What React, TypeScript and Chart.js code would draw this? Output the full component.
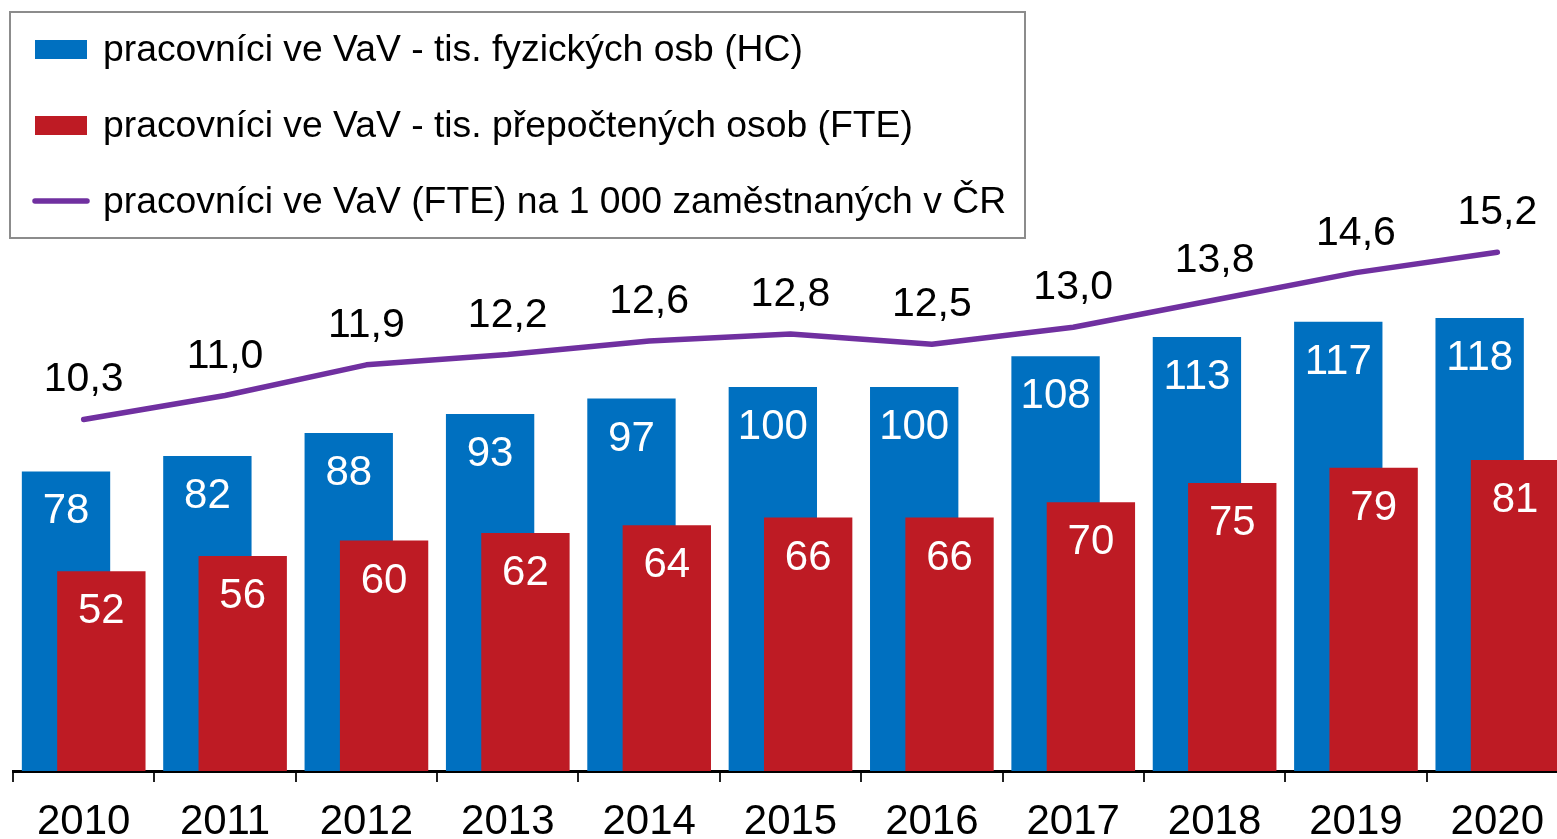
import React, { useEffect, useRef } from "react";
import { Chart, registerables } from "chart.js";

Chart.register(...registerables);

const years = ["2010", "2011", "2012", "2013", "2014", "2015", "2016", "2017", "2018", "2019", "2020"];
const hcValues = [78, 82, 88, 93, 97, 100, 100, 108, 113, 117, 118];
const fteValues = [52, 56, 60, 62, 64, 66, 66, 70, 75, 79, 81];
const perThousandValues = [10.3, 11.0, 11.9, 12.2, 12.6, 12.8, 12.5, 13.0, 13.8, 14.6, 15.2];
const seriesLabels = [
  "pracovníci ve VaV - tis. fyzických osb (HC)",
  "pracovníci ve VaV - tis. přepočtených osob (FTE)",
  "pracovníci ve VaV (FTE) na 1 000 zaměstnaných v ČR",
];

const FONT = '"Liberation Sans", Arial, Helvetica, sans-serif';
const BLUE = "#0070C0";
const RED = "#BE1B24";
const PURPLE = "#7030A0";

const CANVAS_W = 1580;
const CANVAS_H = 880;
const X_AXIS_HEIGHT = 109;

const fmtComma = (v: number) => v.toFixed(1).replace(".", ",");

// Draw blue bars before the red ones so the red bars overlap them.
const drawOrderPlugin = {
  id: "drawOrder",
  beforeDatasetDraw(chart: any, args: any) {
    if (args.index === 0) return false;
    if (args.index === 1) {
      const meta = chart.getDatasetMeta(0);
      if (meta && !meta.hidden) meta.controller.draw();
    }
    return true;
  },
};

const valueLabelsPlugin = {
  id: "valueLabels",
  afterDatasetsDraw(chart: any) {
    const ctx = chart.ctx as CanvasRenderingContext2D;
    ctx.save();
    ctx.textAlign = "center";
    ctx.textBaseline = "alphabetic";
    ctx.font = `42px ${FONT}`;
    [0, 1].forEach((di) => {
      const meta = chart.getDatasetMeta(di);
      const values = chart.data.datasets[di].data as number[];
      meta.data.forEach((el: any, i: number) => {
        ctx.fillStyle = "#ffffff";
        ctx.fillText(String(values[i]), el.x, el.y + 52);
      });
    });
    ctx.font = `41px ${FONT}`;
    const lineMeta = chart.getDatasetMeta(2);
    const lineValues = chart.data.datasets[2].data as number[];
    lineMeta.data.forEach((el: any, i: number) => {
      ctx.fillStyle = "#000000";
      ctx.fillText(fmtComma(lineValues[i]), el.x, el.y - 28);
    });
    ctx.restore();
  },
};

const boxLegendPlugin = {
  id: "boxLegend",
  afterDraw(chart: any) {
    const ctx = chart.ctx as CanvasRenderingContext2D;
    const ds = chart.data.datasets;
    ctx.save();
    ctx.fillStyle = "#ffffff";
    ctx.fillRect(9, 11, 1017, 228);
    ctx.strokeStyle = "#8c8c8c";
    ctx.lineWidth = 2;
    ctx.strokeRect(10, 12, 1015, 226);
    ctx.font = `37.3px ${FONT}`;
    ctx.textAlign = "left";
    ctx.textBaseline = "alphabetic";
    const baselines = [61, 137, 213];
    ds.forEach((d: any, i: number) => {
      const b = baselines[i];
      if (d.type === "line") {
        ctx.strokeStyle = d.borderColor;
        ctx.lineWidth = 5.5;
        ctx.lineCap = "round";
        ctx.beginPath();
        ctx.moveTo(35, b - 12);
        ctx.lineTo(87, b - 12);
        ctx.stroke();
      } else {
        ctx.fillStyle = d.backgroundColor;
        ctx.fillRect(35, b - 21, 52, 19);
      }
      ctx.fillStyle = "#000000";
      ctx.fillText(d.label, 103, b);
    });
    ctx.restore();
  },
};

export default function App() {
  const canvasRef = useRef<HTMLCanvasElement | null>(null);

  useEffect(() => {
    if (!canvasRef.current) return;
    const chart = new Chart(canvasRef.current, {
      type: "bar",
      data: {
        labels: years,
        datasets: [
          {
            type: "bar",
            label: seriesLabels[0],
            data: hcValues,
            backgroundColor: BLUE,
            yAxisID: "y",
            categoryPercentage: 0.5,
            barPercentage: 2.5,
          },
          {
            type: "bar",
            label: seriesLabels[1],
            data: fteValues,
            backgroundColor: RED,
            yAxisID: "y",
            categoryPercentage: 0.5,
            barPercentage: 2.5,
          },
          {
            type: "line",
            label: seriesLabels[2],
            data: perThousandValues,
            borderColor: PURPLE,
            backgroundColor: PURPLE,
            borderWidth: 5.5,
            pointRadius: 0,
            tension: 0,
            borderCapStyle: "round",
            borderJoinStyle: "round",
            yAxisID: "y1",
          },
        ],
      } as any,
      options: {
        responsive: false,
        animation: false,
        layout: { padding: { left: 13, right: 12, top: 3, bottom: 0 } },
        plugins: {
          legend: { display: false },
          tooltip: { enabled: false },
        },
        scales: {
          x: {
            offset: true,
            afterFit: (scale: any) => {
              scale.height = X_AXIS_HEIGHT;
            },
            grid: {
              display: true,
              offset: true,
              drawOnChartArea: false,
              drawTicks: true,
              tickLength: 11,
              color: "#222222",
              lineWidth: 2,
            },
            border: { display: true, color: "#000000", width: 3 },
            ticks: {
              color: "#000000",
              font: { family: FONT, size: 42 },
              padding: 15,
              maxRotation: 0,
              autoSkip: false,
            },
          },
          y: { display: false, min: 0, max: 200 },
          y1: { display: false, min: 0, max: 22.5, position: "right" },
        },
      } as any,
      plugins: [drawOrderPlugin, valueLabelsPlugin, boxLegendPlugin] as any,
    });
    return () => chart.destroy();
  }, []);

  return (
    <div
      style={{
        position: "fixed",
        left: 0,
        top: 0,
        width: 1557,
        height: 839,
        overflow: "hidden",
        background: "#ffffff",
      }}
    >
      <canvas
        ref={canvasRef}
        width={CANVAS_W}
        height={CANVAS_H}
        style={{ display: "block", width: CANVAS_W, height: CANVAS_H }}
      />
    </div>
  );
}
